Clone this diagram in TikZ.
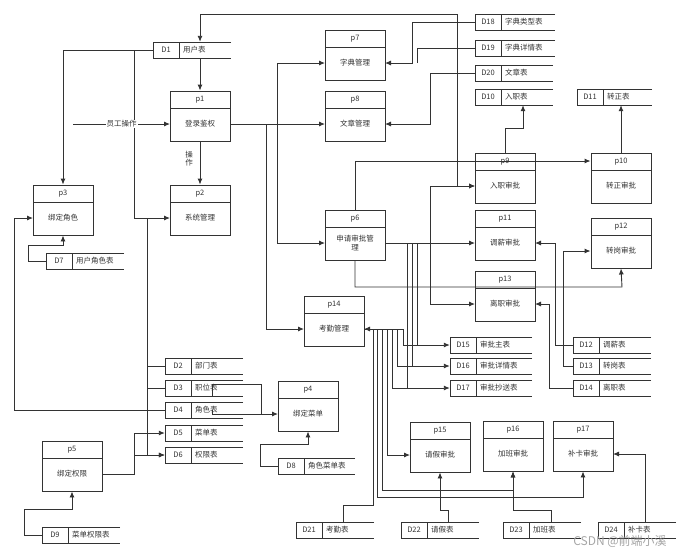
\documentclass[tikz,border=0pt]{standalone}
\usepackage{fontspec}
\setmainfont{Noto Sans CJK SC}
\usetikzlibrary{arrows.meta}
\definecolor{ln}{HTML}{333333}
\tikzset{
  proc/.style={draw=ln,line width=0.9pt,minimum width=60pt,minimum height=50pt,inner sep=0pt},
  txt/.style={font=\fontsize{7.5}{8.5}\selectfont,text=ln,align=center,inner sep=0pt},
  ln/.style={draw=ln,line width=0.9pt},
  ar/.style={ln,-{Latex[length=6pt,width=5pt]}},
  ds/.style={inner sep=0pt,minimum height=16pt}
}
\newcommand\mkproc[5]{%
  \node[proc] (#1) at (#2+30,#3+25) {};
  \draw[ln] (#2,#3+17) -- (#2+60,#3+17);
  \node[txt] (#1h) at (#2+30,#3+9) {#4};
  \node[txt] (#1t) at (#2+30,#3+33) {#5};
  \coordinate (#1-W) at (#2,#3+33);
  \coordinate (#1-E) at (#2+60,#3+33);}
\newcommand\mkds[6]{%
  \node[ds,minimum width=#6pt] (#1) at (#2+#6/2,#3+8) {};
  \draw[ln] (#2+#6,#3) -- (#2,#3) -- (#2,#3+16) -- (#2+#6,#3+16);
  \draw[ln] (#2+26,#3) -- (#2+26,#3+16);
  \node[txt] (#1i) at (#2+13,#3+8) {#4};
  \node[txt,anchor=west] (#1t) at (#2+30,#3+8) {#5};}
\begin{document}
\begin{tikzpicture}[x=1pt,y=-1pt]
\useasboundingbox (0,0) rectangle (692,558);
% processes
\mkproc{p1}{170}{91}{p1}{登录鉴权}
\mkproc{p2}{170}{185}{p2}{系统管理}
\mkproc{p3}{33}{185}{p3}{绑定角色}
\mkproc{p7}{325}{30}{p7}{字典管理}
\mkproc{p8}{325}{91}{p8}{文章管理}
\mkproc{p6}{325}{210}{p6}{申请审批管\\理}
\mkproc{p9}{475}{153}{p9}{入职审批}
\mkproc{p10}{591}{153}{p10}{转正审批}
\mkproc{p11}{475}{210}{p11}{调薪审批}
\mkproc{p12}{591}{218}{p12}{转岗审批}
\mkproc{p13}{475}{271}{p13}{离职审批}
\mkproc{p14}{304}{296}{p14}{考勤管理}
\mkproc{p4}{278}{381}{p4}{绑定菜单}
\mkproc{p5}{42}{441}{p5}{绑定权限}
\mkproc{p15}{410}{422}{p15}{请假审批}
\mkproc{p16}{483}{421}{p16}{加班审批}
\mkproc{p17}{553}{421}{p17}{补卡审批}
% data stores
\mkds{D1}{153}{42}{D1}{用户表}{78}
\mkds{D7}{46}{253}{D7}{用户角色表}{78}
\mkds{D2}{165}{358}{D2}{部门表}{78}
\mkds{D3}{165}{380}{D3}{职位表}{78}
\mkds{D4}{165}{402}{D4}{角色表}{78}
\mkds{D5}{165}{425}{D5}{菜单表}{78}
\mkds{D6}{165}{447}{D6}{权限表}{78}
\mkds{D8}{278}{458}{D8}{角色菜单表}{77}
\mkds{D9}{42}{527}{D9}{菜单权限表}{78}
\mkds{D18}{475}{14}{D18}{字典类型表}{80}
\mkds{D19}{475}{40}{D19}{字典详情表}{80}
\mkds{D20}{475}{65}{D20}{文章表}{78}
\mkds{D10}{475}{89}{D10}{入职表}{78}
\mkds{D11}{577}{89}{D11}{转正表}{75}
\mkds{D15}{450}{337}{D15}{审批主表}{82}
\mkds{D16}{450}{358}{D16}{审批详情表}{82}
\mkds{D17}{450}{380}{D17}{审批抄送表}{82}
\mkds{D12}{573}{337}{D12}{调薪表}{78}
\mkds{D13}{573}{358}{D13}{转岗表}{78}
\mkds{D14}{573}{380}{D14}{离职表}{78}
\mkds{D21}{296}{522}{D21}{考勤表}{78}
\mkds{D22}{401}{522}{D22}{请假表}{78}
\mkds{D23}{503}{522}{D23}{加班表}{78}
\mkds{D24}{598}{522}{D24}{补卡表}{78}
% top loop
\draw[ar,{Latex[length=6pt,width=5pt]}-{Latex[length=6pt,width=5pt]}] (D1.north -| 200,0) -- (200,14) -- (457,14) -- (457,186) -- (p9-W);
\draw[ar] (D1.south -| 200,0) -- (p1.north);
\draw[ar] (D1.west) -| (p3.north);
\draw[ar] (134,50) |- (p2-W);
\coordinate (emp) at (73,124);
\draw[ar] (emp) -- node[txt,fill=white,inner sep=1pt] (empl) {员工操作} (p1-W);
\draw[ar] (p1.south) -- node[txt,fill=white,inner sep=1pt,pos=0.4,xshift=-11pt] (opl) {操\\作} (p2.north);
% p1 right
\draw[ar] (p1-E) -- (p8-W);
\draw[ar] (277,124) |- (p7-W);
\draw[ar] (277,124) |- (p6-W);
\draw[ar] (266,124) |- (p14-W);
% dict / article
\draw[ar] (D18.west) -- (412,22) |- (p7-E);
\draw[ln] (D19.west) -- (417,48) -- (417,63);
\draw[ar] (D20.west) -- (430,73) |- (p8-E);
% p9 / p10
\draw[ar] (p9.north) |- (523,128) -- (D10.south -| 523,0);
\draw[ar] (p10.north) -- (D11.south -| p10.north);
\draw[ar] (p6.north) |- (p10.west |- 0,161);
% p6 right
\draw[ar] (p6-E) -- (p11-W);
\draw[ar] (430,243) |- (p9-W);
\draw[ar] (430,243) |- (p13-W);
\draw[ar] (p6.south) |- (622,287) -- (p12.south);
\draw[ln] (407,243) -- (407,389);
\draw[ln] (412,243) -- (412,366);
\draw[ln] (417,243) -- (417,345);
% stores to approvals
\draw[ar] (D12.west) -| (555,243) -- (p11-E);
\draw[ar] (D13.west) -| (563,251) -- (p12.west |- 0,251);
\draw[ar] (D14.west) -| (549,304) -- (p13-E);
% p14 fan
\draw[ln] (p14-E) -- (403,329);
\draw[ar] (403,329) |- (D15.west);
\draw[ar] (397,329) |- (D16.west);
\draw[ar] (392,329) |- (D17.west);
\draw[ar] (387,329) |- (p15-W);
\draw[ar] (382,329) |- (513,490) -- (p16.south);
\draw[ar] (377,329) |- (583,497) -- (p17.south);
\draw[ar] (D21.north -| 343,0) |- (373,505) -- (373,329) -- (p14-E);
\draw[ar] (D22.north -| 448,0) |- (440,510) -- (p15.south -| 440,0);
\draw[ar] (D23.north -| 551,0) |- (513,510) -- (p16.south);
\draw[ar] (D24.north -| 645,0) |- (p17-E);
% left side
\draw[ln] (147,218) -- (147,455);
\draw[ln] (147,366) -- (D2.west);
\draw[ln] (147,388) -- (D3.west);
\draw[ar] (147,455) -- (D6.west);
\draw[ar] (D4.west) -| (14,218) -- (p3-W);
\draw[ar] (D7.west) -| (28,245) -| (p3.south);
\draw[ln] (212,396) -- (212,384) -- (261,384) -- (261,414);
\draw[ar] (212,410) |- (p4-W);
\draw[ar] (D8.west) -| (260,444) -| (p4.south);
\draw[ar] (p5-E) -| (134,433) -- (D5.west);
\draw[ar] (134,455) -- (D6.west);
\draw[ar] (D9.west) -| (24,509) -| (p5.south);
\node[txt,font=\fontsize{12}{12}\selectfont,text=gray!70] (wm) at (620,541) {CSDN @前端小溪};
\end{tikzpicture}
\end{document}
